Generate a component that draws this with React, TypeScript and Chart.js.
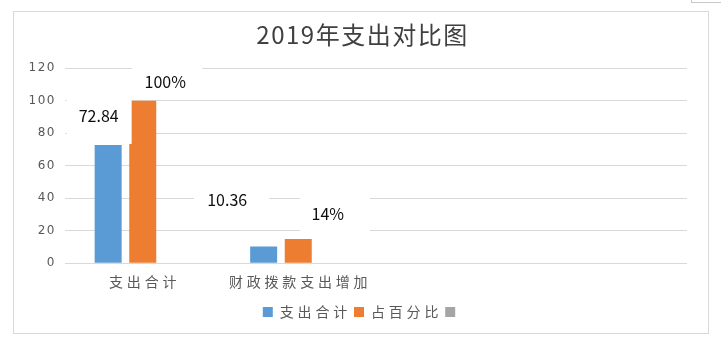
import { useEffect, useRef } from 'react';
import { Chart, registerables } from 'chart.js';

Chart.register(...registerables);

// ---- data ----
const categories = ['支出合计', '财政拨款支出增加', '', ''];
const seriesNames = ['支出合计', '占百分比', ''];
const expenditure: (number | null)[] = [72.84, 10.36, null, null];
const percentage: (number | null)[] = [100, 15, null, null];
const thirdSeries: (number | null)[] = [null, null, null, null];
const expenditureLabels = ['72.84', '10.36'];
const percentageLabels = ['100%', '14%'];
const yTicks = [0, 20, 40, 60, 80, 100, 120];
const chartTitle = '2019年支出对比图';

const FONT = '"Noto Sans CJK SC", "Noto Sans", sans-serif';
const NUM_FONT = '"DejaVu Sans", sans-serif';
const COLORS = ['#5B9BD5', '#ED7D31', '#A5A5A5'];

// label placement relative to the bar's top-centre (style, not data)
const labelSets = [
  {
    dataset: 0,
    texts: expenditureLabels,
    place: [
      { dx: -9.5, dy: -29.5, bx: 0.5, by: 2.5, w: 65, h: 52 },
      { dx: -36.5, dy: -46.5, bx: 4.5, by: 0, w: 75, h: 40 },
    ],
  },
  {
    dataset: 1,
    texts: percentageLabels,
    place: [
      { dx: 22.5, dy: -19, bx: 2, by: 0, w: 70, h: 34 },
      { dx: 29.5, dy: -25.5, bx: 7, by: 1.5, w: 70, h: 44 },
    ],
  },
];

function wrapSpacing(obj: any, method: string, spacing: string) {
  if (!obj || obj['__sp_' + method]) return;
  const orig = obj[method];
  obj['__sp_' + method] = true;
  obj[method] = function (...args: any[]) {
    const ctx: any = this.ctx;
    const prev = ctx.letterSpacing;
    ctx.letterSpacing = spacing;
    try {
      return orig.apply(this, args);
    } finally {
      ctx.letterSpacing = prev;
    }
  };
}

export default function App() {
  const ref = useRef<HTMLCanvasElement | null>(null);

  useEffect(() => {
    if (!ref.current) return;

    const spacingPlugin = {
      id: 'textSpacing',
      beforeLayout(chart: any) {
        chart.ctx.letterSpacing = '3.8px';
      },
      afterLayout(chart: any) {
        chart.ctx.letterSpacing = '0px';
      },
      beforeDraw(chart: any) {
        wrapSpacing(chart.scales.x, 'drawLabels', '3.8px');
        wrapSpacing(chart.scales.y, 'drawLabels', '1.5px');
        wrapSpacing(chart.legend, 'draw', '3.8px');
        wrapSpacing(chart.titleBlock, 'draw', '1.5px');
      },
    };

    const labelPlugin = {
      id: 'boxLabels',
      afterDatasetsDraw(chart: any) {
        const ctx: CanvasRenderingContext2D = chart.ctx;
        labelSets.forEach((set) => {
          const meta = chart.getDatasetMeta(set.dataset);
          set.texts.forEach((text, i) => {
            const el = meta.data[i];
            const p = set.place[i];
            if (!el || !p) return;
            const tx = el.x + p.dx;
            const ty = el.y + p.dy;
            ctx.save();
            ctx.fillStyle = '#ffffff';
            ctx.fillRect(tx + p.bx - p.w / 2, ty + p.by - p.h / 2, p.w, p.h);
            ctx.font = `16px ${FONT}`;
            ctx.fillStyle = '#0d0d0d';
            ctx.textAlign = 'center';
            ctx.textBaseline = 'middle';
            ctx.fillText(text, tx, ty);
            ctx.restore();
          });
        });
      },
    };

    const chart = new Chart(ref.current, {
      type: 'bar',
      data: {
        labels: categories,
        datasets: [
          { label: seriesNames[0], data: expenditure, backgroundColor: COLORS[0] },
          { label: seriesNames[1], data: percentage, backgroundColor: COLORS[1] },
          { label: seriesNames[2], data: thirdSeries, backgroundColor: COLORS[2] },
        ],
      },
      options: {
        responsive: false,
        animation: false,
        devicePixelRatio: 1,
        layout: { padding: { left: 0, right: 0, top: 0, bottom: 34 } },
        datasets: { bar: { categoryPercentage: 0.6675, barPercentage: 0.78 } },
        scales: {
          x: {
            grid: { display: false },
            border: { display: false },
            ticks: {
              font: { family: FONT, size: 14 },
              color: '#595959',
              padding: 2,
              labelOffset: 1.9,
              maxRotation: 0,
              autoSkip: false,
            },
            afterFit: (s: any) => {
              s.height = 38.7;
            },
          },
          y: {
            min: yTicks[0],
            max: yTicks[yTicks.length - 1],
            ticks: {
              stepSize: yTicks[1] - yTicks[0],
              font: { family: NUM_FONT, size: 12 },
              color: '#595959',
              padding: 9,
            },
            grid: { color: '#d9d9d9', drawTicks: false },
            border: { display: false },
            afterFit: (s: any) => {
              s.width = 65;
            },
          },
          yRight: {
            position: 'right',
            grid: { display: false },
            border: { display: false },
            ticks: { display: false },
            afterFit: (s: any) => {
              s.width = 38;
            },
          },
        },
        plugins: {
          title: {
            display: true,
            text: chartTitle,
            font: { family: FONT, size: 24, weight: 'normal', lineHeight: 1.2 },
            color: '#404040',
            padding: { top: 20, bottom: 19.5 },
          },
          legend: {
            position: 'bottom',
            labels: {
              boxWidth: 10,
              boxHeight: 10,
              padding: 3,
              font: { family: FONT, size: 14 },
              color: '#595959',
            },
          },
          tooltip: { enabled: false },
        },
      } as any,
      plugins: [spacingPlugin, labelPlugin],
    });

    return () => chart.destroy();
  }, []);

  return (
    <div style={{ position: 'absolute', left: 0, top: 0, width: 725, height: 363, background: '#ffffff' }}>
      <div
        style={{
          position: 'absolute',
          left: 13,
          top: 11,
          width: 696,
          height: 323,
          boxSizing: 'border-box',
          border: '1px solid #d9d9d9',
        }}
      />
      <div
        style={{
          position: 'absolute',
          left: 691,
          top: -1,
          width: 30,
          height: 4,
          boxSizing: 'border-box',
          borderLeft: '1px solid #c8c8c8',
          borderBottom: '1px solid #c8c8c8',
        }}
      />
      <canvas ref={ref} width={725} height={363} style={{ position: 'absolute', left: 0, top: 0, width: 725, height: 363 }} />
    </div>
  );
}
